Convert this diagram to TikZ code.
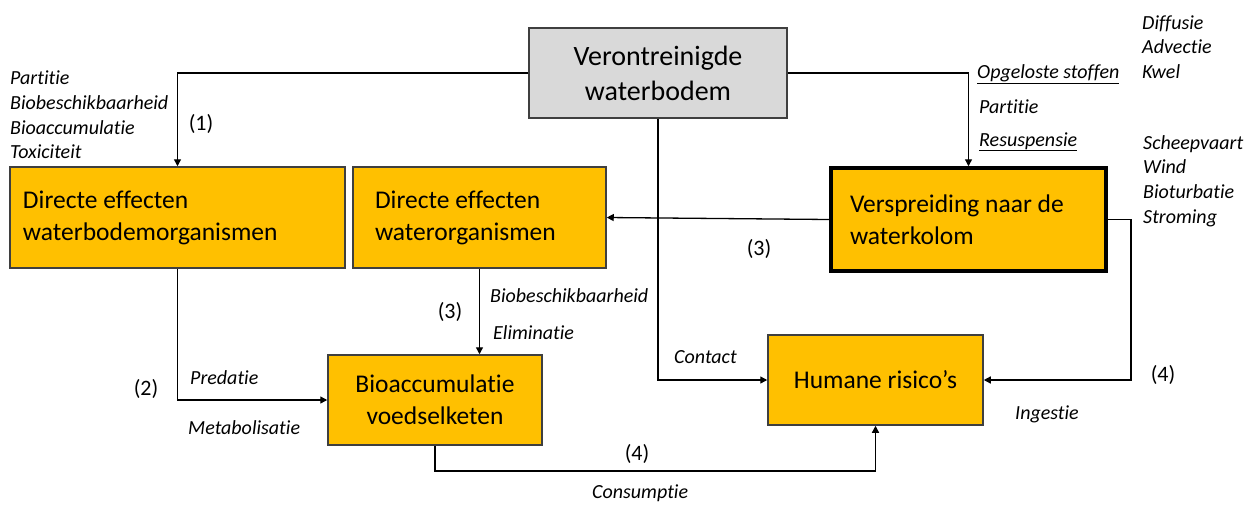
\documentclass[tikz,border=0pt]{standalone}
\usepackage{fontspec}
\setmainfont[Ligatures=NoCommon]{Carlito}
\usetikzlibrary{arrows.meta}
\definecolor{boxorange}{HTML}{FFC000}
\definecolor{boxgray}{HTML}{D9D9D9}
\definecolor{edgegray}{HTML}{3F3F3F}
\tikzset{
  boxbase/.style={draw=edgegray, line width=1.5pt, rectangle, fill=boxorange, inner ysep=0pt,
    font=\fontsize{25.5}{32}\selectfont},
  leftbox/.style={boxbase, align=flush left},
  midbox/.style={boxbase, align=center},
  arr/.style={line width=1.3pt, draw=black, -{Triangle[length=7pt,width=7pt]}},
  lbl/.style={anchor=base west, inner sep=0pt, font=\fontsize{20}{24}\selectfont\itshape},
  num/.style={anchor=base, inner sep=0pt, font=\fontsize{22}{26}\selectfont},
}
\begin{document}
\begin{tikzpicture}[x=1pt,y=-1pt]
\useasboundingbox (0,0) rectangle (1253,504);

% boxes
\node[midbox, fill=boxgray, minimum width=258pt, minimum height=90pt,
      font=\fontsize{28}{35}\selectfont] (V) at (658,73) {Verontreinigde\\waterbodem};
\node[leftbox, minimum height=101pt, inner xsep=13pt, text width=309pt] (B1) at (177.5,217.5)
  {Directe effecten\\waterbodemorganismen};
\node[leftbox, minimum height=101pt, inner xsep=22pt, text width=209pt] (W) at (479.5,217.5)
  {Directe effecten\\waterorganismen};
\node[leftbox, draw=black, line width=3.5pt, minimum height=103pt, inner xsep=19pt, text width=237pt] (S) at (968.5,219.5)
  {Verspreiding naar de\\waterkolom};
\node[midbox, minimum width=214pt, minimum height=90pt] (A) at (435,400)
  {Bioaccumulatie\\voedselketen};
\node[midbox, minimum width=215pt, minimum height=90pt] (H) at (875.5,380)
  {Humane risico’s};

% helper coordinates
\coordinate (rx) at (1131,0);
\coordinate (by) at (0,471);

% connectors
\draw[arr] (V.west) -| (B1.north);
\draw[arr] (V.east) -| (S.north);
\draw[arr] (V.south) |- (H.west);
\draw[arr] (S.west) -- (W.east);
\draw[arr] (S.east) -- (S.east -| rx) |- (H.east);
\draw[arr] (B1.south) |- (A.west);
\draw[arr] (W.south) -- (W.south |- A.north);
\draw[arr] (A.south) -- (A.south |- by) -| (H.south);

% left labels
\node[lbl] (l1) at (10,84) {Partitie};
\node[lbl] (l2) at (10,109) {Biobeschikbaarheid};
\node[lbl] (l3) at (10,134) {Bioaccumulatie};
\node[lbl] (l4) at (10,158) {Toxiciteit};
\node[num] (n1) at (201,130) {(1)};

% right labels near top
\node[lbl] (r1) at (977,78) {\underline{Opgeloste stoffen}};
\node[lbl] (r2) at (979,113) {Partitie};
\node[lbl] (r3) at (979,146) {\underline{Resuspensie}};
\node[lbl] (d1) at (1142,29) {Diffusie};
\node[lbl] (d2) at (1142,53) {Advectie};
\node[lbl] (d3) at (1142,78) {Kwel};
\node[lbl] (s1) at (1143,149) {Scheepvaart};
\node[lbl] (s2) at (1143,173) {Wind};
\node[lbl] (s3) at (1143,198) {Bioturbatie};
\node[lbl] (s4) at (1143,223) {Stroming};
\node[num] (n3a) at (759,255) {(3)};

% middle labels
\node[num] (n3b) at (450,318) {(3)};
\node[lbl] (m1) at (490,302) {Biobeschikbaarheid};
\node[lbl] (m2) at (493,339) {Eliminatie};
\node[num] (n2) at (146,395) {(2)};
\node[lbl] (p1) at (190,384) {Predatie};
\node[lbl] (p2) at (188,434) {Metabolisatie};
\node[lbl] (c1) at (674,363) {Contact};
\node[lbl] (i1) at (1015,419) {Ingestie};
\node[num] (n4a) at (1163,381) {(4)};
\node[num] (n4b) at (637,460) {(4)};
\node[lbl] (k1) at (592,498) {Consumptie};
\end{tikzpicture}
\end{document}
